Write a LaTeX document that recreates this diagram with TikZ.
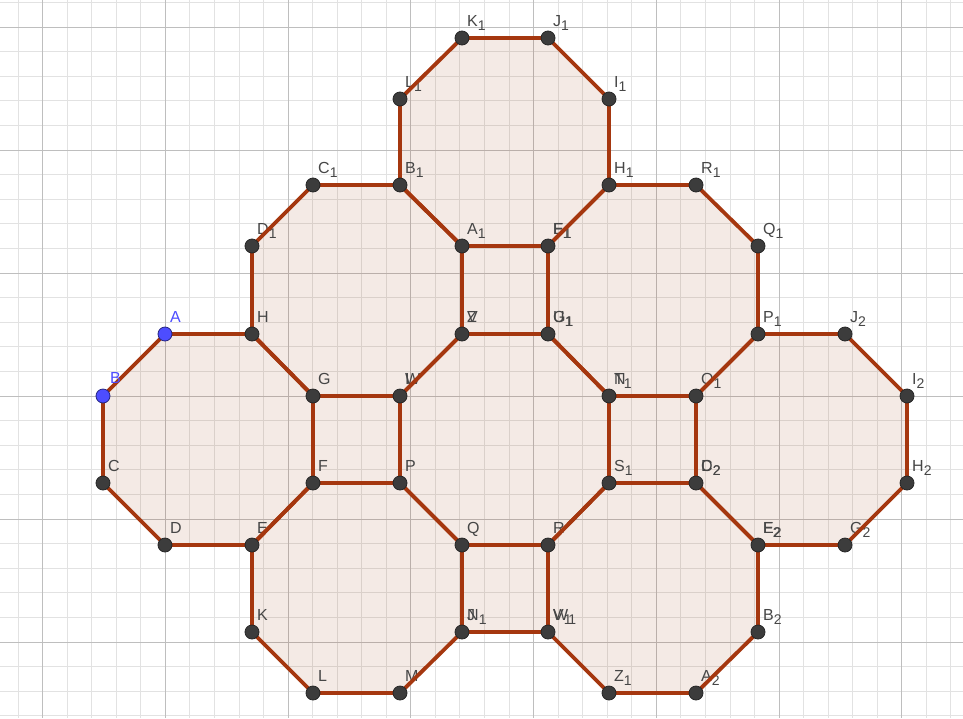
\documentclass[tikz,border=0pt]{standalone}
\usepackage{fontspec}
\setmainfont{Liberation Sans}
\usetikzlibrary{calc}

\definecolor{ggedge}{RGB}{165,55,15}
\definecolor{ggfill}{RGB}{153,51,0}
\definecolor{ggpt}{RGB}{60,60,60}
\definecolor{ggblue}{RGB}{77,77,255}
\definecolor{gglab}{RGB}{70,70,70}
\definecolor{ggmajor}{RGB}{190,190,190}
\definecolor{ggminor}{RGB}{226,226,226}

\newcommand{\sbs}[1]{\raisebox{-4.5pt}{\fontsize{14}{14}\selectfont #1}}

\def\octlist{A/B/C/D/E/F/G/H, H/D1/C1/B1/A1/V/W/G, B1/L1/K1/J1/I1/H1/E1/A1,
  E1/H1/R1/Q1/P1/O1/T1/U1, V/U1/T1/S1/R/Q/P/W, P1/J2/I2/H2/G2/E2/D2/O1,
  F/P/Q/N1/M/L/K/E, S1/D2/E2/B2/A2/Z1/W1/R}
\def\sqlist{G/W/P/F, A1/E1/U1/V, T1/O1/D2/S1, Q/R/W1/N1}

\begin{document}
\begin{tikzpicture}[
    x=1pt, y=-1pt,
    minorline/.style={ggminor, line width=0.8pt},
    majorline/.style={ggmajor, line width=0.9pt},
    polyfill/.style={fill=ggfill, fill opacity=0.1},
    polyedge/.style={draw=ggedge, line width=3.8pt, line join=round},
    pt/.style={circle, draw=black!85, fill=ggpt, line width=0.8pt, minimum size=14pt, inner sep=0pt},
    freept/.style={pt, fill=ggblue, draw=ggblue!50!black},
    lab/.style={anchor=base west, inner sep=0pt, text=gglab, font=\fontsize{16}{16}\selectfont},
    freelab/.style={lab, text=ggblue}
]
    \useasboundingbox (0,0) rectangle (963,718);
    \fill[white] (0,0) rectangle (963,718);

    % grid
    \foreach \k in {-1,...,38}
        \draw[minorline] ({42.5+24.55*\k},0) -- ({42.5+24.55*\k},718);
    \foreach \k in {-1,...,29}
        \draw[minorline] (0,{27+24.6*\k}) -- (963,{27+24.6*\k});
    \foreach \k in {0,...,7}
        \draw[majorline] ({42.5+122.75*\k},0) -- ({42.5+122.75*\k},718);
    \foreach \k in {0,...,5}
        \draw[majorline] (0,{27+123*\k}) -- (963,{27+123*\k});

    \coordinate (A) at (165,334);  \coordinate (B) at (103,396);  \coordinate (C) at (103,483);
    \coordinate (D) at (165,545);  \coordinate (E) at (252,545);  \coordinate (F) at (313,483);
    \coordinate (G) at (313,396);  \coordinate (H) at (252,334);  \coordinate (K) at (252,632);
    \coordinate (L) at (313,693);  \coordinate (M) at (400,693);  \coordinate (P) at (400,483);
    \coordinate (Q) at (462,545);  \coordinate (R) at (548,545);  \coordinate (V) at (462,334);
    \coordinate (W) at (400,396);
    \coordinate (A1) at (462,246); \coordinate (B1) at (400,185); \coordinate (C1) at (313,185);
    \coordinate (D1) at (252,246); \coordinate (E1) at (548,246); \coordinate (H1) at (609,185);
    \coordinate (I1) at (609,99);  \coordinate (J1) at (548,38);  \coordinate (K1) at (462,38);
    \coordinate (L1) at (400,99);  \coordinate (N1) at (462,632); \coordinate (O1) at (696,396);
    \coordinate (P1) at (758,334); \coordinate (Q1) at (758,246); \coordinate (R1) at (696,185);
    \coordinate (S1) at (609,483); \coordinate (T1) at (609,396); \coordinate (U1) at (548,334);
    \coordinate (W1) at (548,632); \coordinate (Z1) at (609,693);
    \coordinate (A2) at (696,693); \coordinate (B2) at (758,632); \coordinate (D2) at (696,483);
    \coordinate (E2) at (758,545); \coordinate (G2) at (845,545); \coordinate (H2) at (907,483);
    \coordinate (I2) at (907,396); \coordinate (J2) at (845,334);

    \foreach \a/\b/\c/\d/\e/\f/\g/\h in \octlist
        \fill[polyfill] (\a) -- (\b) -- (\c) -- (\d) -- (\e) -- (\f) -- (\g) -- (\h) -- cycle;
    \foreach \a/\b/\c/\d in \sqlist
        \fill[polyfill] (\a) -- (\b) -- (\c) -- (\d) -- cycle;

    \foreach \p/\t [count=\i] in {C/C, D/D, E/E, F/F, G/G, H/H, K/K, L/L, M/M, P/P, Q/Q, R/R,
        V/V, V/Z, W/W, W/I, A1/A\sbs1, B1/B\sbs1, C1/C\sbs1, D1/D\sbs1, E1/E\sbs1, E1/F\sbs1,
        H1/H\sbs1, I1/I\sbs1, J1/J\sbs1, K1/K\sbs1, L1/L\sbs1, N1/N\sbs1, N1/J, O1/O\sbs1,
        P1/P\sbs1, Q1/Q\sbs1, R1/R\sbs1, S1/S\sbs1, T1/T\sbs1, T1/N, U1/G\sbs1, U1/U\sbs1,
        W1/W\sbs1, W1/V\sbs1, Z1/Z\sbs1, A2/A\sbs2, B2/B\sbs2, D2/D\sbs2, D2/C\sbs2,
        E2/E\sbs2, E2/F\sbs2, G2/G\sbs2, H2/H\sbs2, I2/I\sbs2, J2/J\sbs2}
        \node[lab] (lab\i) at ($(\p)+(5,-12)$) {\t};

    \foreach \a/\b/\c/\d/\e/\f/\g/\h in \octlist
        \draw[polyedge] (\a) -- (\b) -- (\c) -- (\d) -- (\e) -- (\f) -- (\g) -- (\h) -- cycle;
    \foreach \a/\b/\c/\d in \sqlist
        \draw[polyedge] (\a) -- (\b) -- (\c) -- (\d) -- cycle;

    \node[freelab] (labA) at ($(A)+(5,-12)$) {A};
    \node[freelab] (labB) at ($(B)+(7,-13)$) {B};
    \node[freept] (ptA) at (A) {};
    \node[freept] (ptB) at (B) {};
    \foreach \p in {C, D, E, F, G, H, K, L, M, P, Q, R, V, W, A1, B1, C1, D1, E1, H1, I1, J1,
        K1, L1, N1, O1, P1, Q1, R1, S1, T1, U1, W1, Z1, A2, B2, D2, E2, G2, H2, I2, J2}
        \node[pt] (pt\p) at (\p) {};
\end{tikzpicture}
\end{document}
